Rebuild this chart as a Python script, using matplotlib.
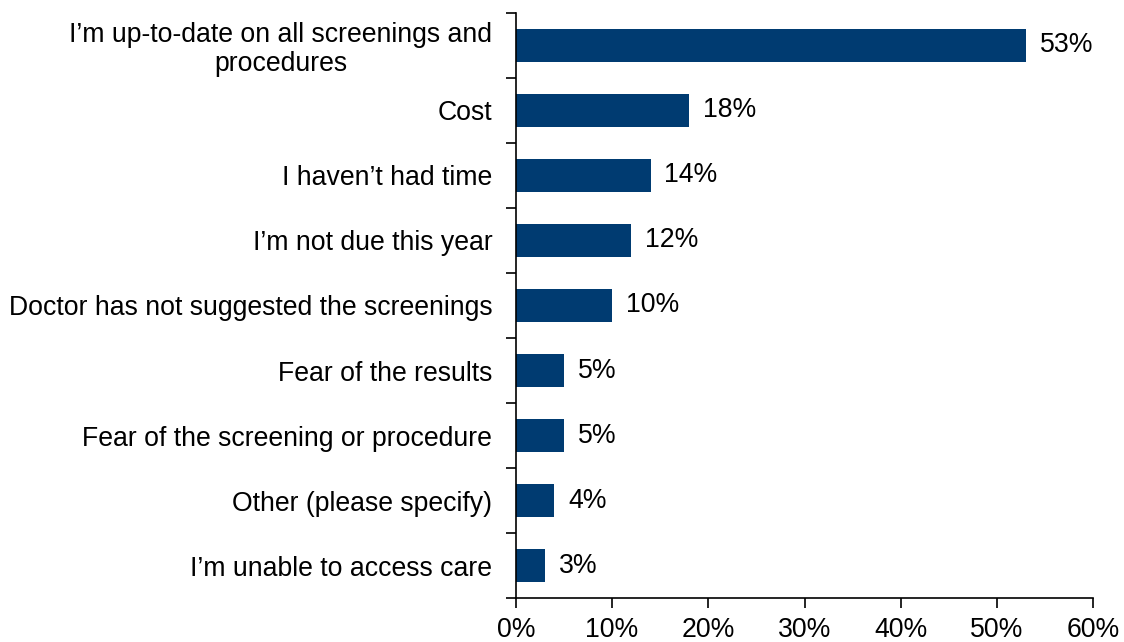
import matplotlib.pyplot as plt
from matplotlib.ticker import FixedLocator, PercentFormatter
import numpy as np

plt.rcParams['font.family'] = ['Liberation Sans', 'DejaVu Sans']

categories = [
    "I\u2019m up-to-date on all screenings and\nprocedures",
    "Cost",
    "I haven\u2019t had time",
    "I\u2019m not due this year",
    "Doctor has not suggested the screenings",
    "Fear of the results",
    "Fear of the screening or procedure",
    "Other (please specify)",
    "I\u2019m unable to access care",
]
values = [53, 18, 14, 12, 10, 5, 5, 4, 3]
bar_color = '#003b71'
fs = 19.2

fig = plt.figure(figsize=(11.24, 6.42), dpi=100)
ax = fig.add_axes([0.459, 0.0685, 0.5135, 0.9113])

y = np.arange(len(categories))
ax.barh(y, values, height=0.5, color=bar_color)
for yi, v in zip(y, values):
    ax.annotate(f'{v}%', (v, yi), xytext=(10, 0), textcoords='offset points',
                va='center', ha='left', fontsize=fs)

ax.set_ylim(len(categories) - 0.5, -0.5)
ax.set_xlim(0, 60)
ax.set_yticks(y)
ax.set_yticklabels(categories, fontsize=fs, multialignment='center', linespacing=1.15)
ax.yaxis.set_minor_locator(FixedLocator(np.arange(-0.5, len(categories), 1)))
ax.tick_params(axis='y', which='major', length=0, pad=17)
ax.tick_params(axis='y', which='minor', length=7, width=1.2, direction='out')

ax.set_xticks(np.arange(0, 61, 10))
ax.xaxis.set_major_formatter(PercentFormatter(decimals=0))
ax.tick_params(axis='x', length=7, width=1.2, direction='out', labelsize=fs, pad=7)

for s in ['top', 'right']:
    ax.spines[s].set_visible(False)
for s in ['left', 'bottom']:
    ax.spines[s].set_linewidth(1.2)

fig.savefig('out.png', dpi=100)
